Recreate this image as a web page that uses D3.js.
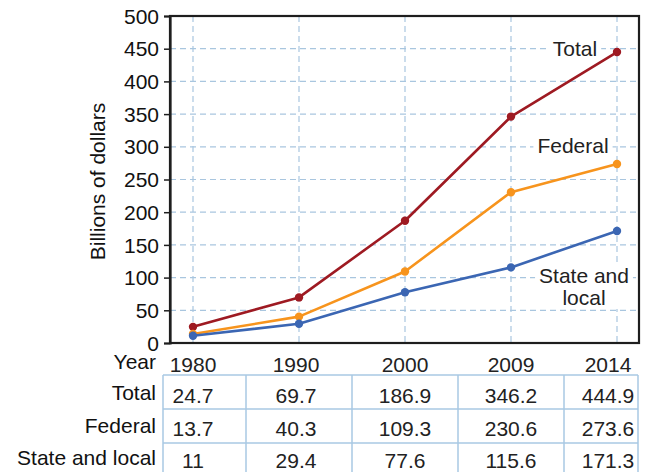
<!DOCTYPE html>
<html>
<head>
<meta charset="utf-8">
<script src="https://cdn.jsdelivr.net/npm/d3@7/dist/d3.min.js"></script>
<style>
  html, body { margin: 0; padding: 0; background: #fff; }
  svg { display: block; font-family: "Liberation Sans", Arial, Helvetica, sans-serif; }
</style>
</head>
<body>
<svg id="chart" width="650" height="472"></svg>
<script>
// Spending, billions of dollars
const years = ["1980", "1990", "2000", "2009", "2014"];
const total = [24.7, 69.7, 186.9, 346.2, 444.9];
const federal = [13.7, 40.3, 109.3, 230.6, 273.6];
const stateLocal = [11, 29.4, 77.6, 115.6, 171.3];
const yTicks = [0, 50, 100, 150, 200, 250, 300, 350, 400, 450, 500];
const seriesNames = ["Total", "Federal", "State and local"];

const series = [
  { name: seriesNames[0], values: total, color: "#9e1a22" },
  { name: seriesNames[1], values: federal, color: "#f7941d" },
  { name: seriesNames[2], values: stateLocal, color: "#3b66b3" }
];

const svg = d3.select("#chart");
const plot = { left: 170, right: 639, top: 16, bottom: 343 };
const fontSize = 21;
const gridColor = "#a9c6df";
const tableColor = "#a9c9e3";

const x = d3.scalePoint().domain(years).range([193, 617]);
const y = d3.scaleLinear().domain([0, 500]).range([plot.bottom, plot.top]);

// dashed grid
const grid = svg.append("g").attr("stroke", gridColor).attr("stroke-width", 1.2)
  .attr("stroke-dasharray", "6,4").attr("fill", "none");
grid.selectAll("line.h").data(yTicks.filter(t => t > 0 && t < 500)).join("line")
  .attr("x1", plot.left).attr("x2", plot.right)
  .attr("y1", d => y(d)).attr("y2", d => y(d));
grid.selectAll("line.v").data(years).join("line")
  .attr("x1", d => x(d)).attr("x2", d => x(d))
  .attr("y1", plot.top).attr("y2", plot.bottom);

// frame
svg.append("rect")
  .attr("x", plot.left).attr("y", plot.top)
  .attr("width", plot.right - plot.left).attr("height", plot.bottom - plot.top)
  .attr("fill", "none").attr("stroke", "#1e1e1e").attr("stroke-width", 2.2);

// y axis
const yAxis = svg.append("g")
  .attr("transform", `translate(${plot.left},0)`)
  .call(d3.axisLeft(y).tickValues(yTicks).tickSize(6).tickPadding(5));
yAxis.select(".domain").attr("stroke", "#1e1e1e").attr("stroke-width", 2.2);
yAxis.selectAll(".tick line").attr("stroke", "#1e1e1e").attr("stroke-width", 1.5);
yAxis.selectAll(".tick text")
  .attr("font-size", fontSize).attr("fill", "#111")
  .attr("font-family", "'Liberation Sans', Arial, sans-serif")
  .attr("dy", "0.34em");

svg.append("text")
  .attr("transform", `translate(105,${(plot.top + plot.bottom) / 2 + 2}) rotate(-90)`)
  .attr("text-anchor", "middle")
  .attr("font-size", fontSize).attr("fill", "#111")
  .text("Billions of dollars");

// lines and points
const line = d3.line().x((d, i) => x(years[i])).y(d => y(d));
series.forEach(s => {
  svg.append("path").datum(s.values)
    .attr("d", line).attr("fill", "none")
    .attr("stroke", s.color).attr("stroke-width", 2.6)
    .attr("stroke-linejoin", "round");
  svg.append("g").selectAll("circle").data(s.values).join("circle")
    .attr("cx", (d, i) => x(years[i])).attr("cy", d => y(d))
    .attr("r", 4.2).attr("fill", s.color);
});

// series labels with white backing
function seriesLabel(lines, cx, baseline, lh) {
  const g = svg.append("g");
  const t = g.append("text").attr("text-anchor", "middle")
    .attr("font-size", fontSize).attr("fill", "#222");
  lines.forEach((ln, i) => {
    t.append("tspan").attr("x", cx).attr("y", baseline + i * lh).text(ln);
  });
  const bb = t.node().getBBox();
  g.insert("rect", "text")
    .attr("x", bb.x - 4).attr("y", bb.y)
    .attr("width", bb.width + 8).attr("height", bb.height)
    .attr("fill", "#fff");
}
seriesLabel([seriesNames[0]], 575, 56, 22);
seriesLabel([seriesNames[1]], 573, 153, 22);
seriesLabel(["State and", "local"], 584, 283, 22);

// data table
const tbl = { top: 375, rowH: 34, left: 163, right: 638 };
const bounds = [tbl.left];
for (let i = 0; i < years.length - 1; i++) bounds.push((x(years[i]) + x(years[i + 1])) / 2);
bounds.push(tbl.right);
const nRows = 3;
const tg = svg.append("g").attr("stroke", tableColor).attr("stroke-width", 1.5);
for (let r = 0; r <= nRows; r++) {
  tg.append("line").attr("x1", tbl.left).attr("x2", tbl.right)
    .attr("y1", tbl.top + r * tbl.rowH).attr("y2", tbl.top + r * tbl.rowH);
}
bounds.forEach(b => {
  tg.append("line").attr("x1", b).attr("x2", b)
    .attr("y1", tbl.top).attr("y2", tbl.top + nRows * tbl.rowH);
});

// text position in each column
const colX = years.map((yr, i) => i === years.length - 1 ? (bounds[i] + bounds[i + 1]) / 2 + 7 : x(yr) - (i === 1 ? 3 : 0));

const rowLabels = ["Year"].concat(seriesNames);
const labelBase = [369, 400, 433, 465];
const valueBase = [372, 403, 436, 468];
rowLabels.forEach((lbl, r) => {
  svg.append("text").attr("x", 156).attr("y", labelBase[r])
    .attr("text-anchor", "end").attr("font-size", fontSize).attr("fill", "#111")
    .text(lbl);
});
const rowsVals = [years, total, federal, stateLocal];
rowsVals.forEach((vals, r) => {
  svg.append("g").selectAll("text").data(vals).join("text")
    .attr("x", (d, i) => colX[i]).attr("y", valueBase[r])
    .attr("text-anchor", "middle").attr("font-size", fontSize).attr("fill", "#222")
    .text(d => String(d));
});
</script>
</body>
</html>
